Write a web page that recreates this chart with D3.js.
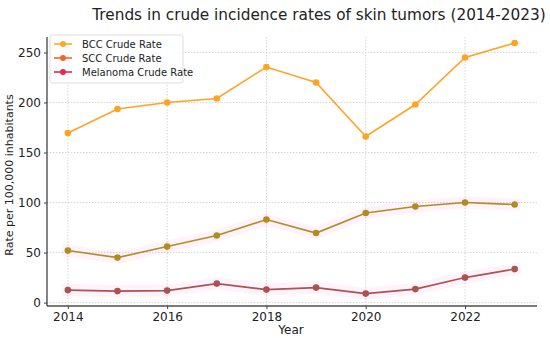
<!DOCTYPE html>
<html>
<head>
<meta charset="utf-8">
<script src="https://cdn.jsdelivr.net/npm/d3@7"></script>
<style>
  body { margin: 0; background: #fff; }
  text { font-family: "DejaVu Sans", sans-serif; fill: #222; }
</style>
</head>
<body>
<div class="chart"></div>
<script>
var w = 550;
var h = 338;
var margin = {top: 37, right: 13, bottom: 32, left: 47};

var years = [2014, 2015, 2016, 2017, 2018, 2019, 2020, 2021, 2022, 2023];
var bcc = [169.5, 193.5, 200, 204, 235.5, 220, 166, 198, 245, 259.5];
var scc = [52, 45, 56, 67, 83, 69.5, 89.5, 96, 100, 98];
var melanoma = [12.5, 11.5, 12, 19, 13, 15, 9, 13.5, 25, 33.5];
var xTicks = [2014, 2016, 2018, 2020, 2022];
var yTicks = [0, 50, 100, 150, 200, 250];

var series = [
  {name: "BCC Crude Rate", values: bcc, line: "#ffa322", legend: "#ffa726", band: false},
  {name: "SCC Crude Rate", values: scc, line: "#b48b1f", legend: "#f4652a", band: true},
  {name: "Melanoma Crude Rate", values: melanoma, line: "#ab5252", legend: "#e8284f", band: true}
];

var svg = d3.select(".chart")
            .append("svg")
            .attr("width", w)
            .attr("height", h);

var xScale = d3.scaleLinear()
    .domain([2013.58, 2023.45])
    .range([margin.left, w - margin.right]);

var yScale = d3.scaleLinear()
    .domain([-3.4, 265.5])
    .range([h - margin.bottom, margin.top]);

// grid
svg.selectAll(".vgrid")
   .data(xTicks)
   .enter()
   .append("line")
   .attr("x1", (d) => xScale(d)).attr("x2", (d) => xScale(d))
   .attr("y1", margin.top).attr("y2", h - margin.bottom)
   .attr("stroke", "#d6d6d6")
   .attr("stroke-dasharray", "1.5,1.5");

svg.selectAll(".hgrid")
   .data(yTicks)
   .enter()
   .append("line")
   .attr("x1", margin.left).attr("x2", w - margin.right)
   .attr("y1", (d) => yScale(d)).attr("y2", (d) => yScale(d))
   .attr("stroke", "#d6d6d6")
   .attr("stroke-dasharray", "1.5,1.5");

var line = d3.line()
    .x((d, i) => xScale(years[i]))
    .y((d) => yScale(d));

// faint pink halo behind two series
series.filter((s) => s.band).forEach(function (s) {
  svg.append("path")
     .attr("d", line(s.values))
     .attr("fill", "none")
     .attr("stroke", "#ff7fd0")
     .attr("stroke-opacity", 0.09)
     .attr("stroke-width", 12)
     .attr("stroke-linecap", "square");
});

series.forEach(function (s) {
  svg.append("path")
     .attr("d", line(s.values))
     .attr("fill", "none")
     .attr("stroke", s.line)
     .attr("stroke-width", 1.6);

  svg.selectAll(null)
     .data(s.values)
     .enter()
     .append("circle")
     .attr("cx", (d, i) => xScale(years[i]))
     .attr("cy", (d) => yScale(d))
     .attr("r", 3.3)
     .attr("fill", s.line);
});

// axes
var xAxis = svg.append("g")
   .attr("transform", "translate(0," + (h - margin.bottom) + ")")
   .call(d3.axisBottom(xScale).tickValues(xTicks).tickFormat(d3.format("d")).tickSize(3).tickPadding(3));
xAxis.select(".domain").attr("stroke", "#7a7a7a").attr("stroke-width", 2.2).attr("d", "M" + margin.left + ",0H" + (w - margin.right));
xAxis.selectAll(".tick line").attr("stroke", "#444");
xAxis.selectAll("text").style("font-size", "12px").attr("fill", "#222");

var yAxis = svg.append("g")
   .attr("transform", "translate(" + margin.left + ",0)")
   .call(d3.axisLeft(yScale).tickValues(yTicks).tickSize(3).tickPadding(3));
yAxis.select(".domain").attr("stroke", "#333").attr("stroke-width", 1.2).attr("d", "M0," + margin.top + "V" + (h - margin.bottom));
yAxis.selectAll(".tick line").attr("stroke", "#444");
yAxis.selectAll("text").style("font-size", "12px").attr("fill", "#222");

// labels
svg.append("text")
   .attr("x", 319).attr("y", 20)
   .attr("text-anchor", "middle")
   .style("font-size", "15.3px")
   .attr("fill", "#111")
   .text("Trends in crude incidence rates of skin tumors (2014-2023)");

svg.append("text")
   .attr("x", 291).attr("y", 334)
   .attr("text-anchor", "middle")
   .style("font-size", "12px")
   .text("Year");

svg.append("text")
   .attr("transform", "translate(13," + 175 + ") rotate(-90)")
   .attr("text-anchor", "middle")
   .style("font-size", "11px")
   .text("Rate per 100,000 inhabitants");

// legend
var legend = svg.append("g").attr("transform", "translate(50,35)");
legend.append("rect")
   .attr("width", 133).attr("height", 48).attr("rx", 2)
   .attr("fill", "#fff").attr("fill-opacity", 0.85)
   .attr("stroke", "#ddd");

series.forEach(function (s, i) {
  var y = 9 + i * 14;
  legend.append("line")
     .attr("x1", 4).attr("x2", 22).attr("y1", y).attr("y2", y)
     .attr("stroke", s.legend).attr("stroke-width", 1.6);
  legend.append("circle")
     .attr("cx", 13).attr("cy", y).attr("r", 3)
     .attr("fill", s.legend);
  legend.append("text")
     .attr("x", 32).attr("y", y + 3.5)
     .style("font-size", "10px")
     .attr("fill", "#333")
     .text(s.name);
});
</script>
</body>
</html>
